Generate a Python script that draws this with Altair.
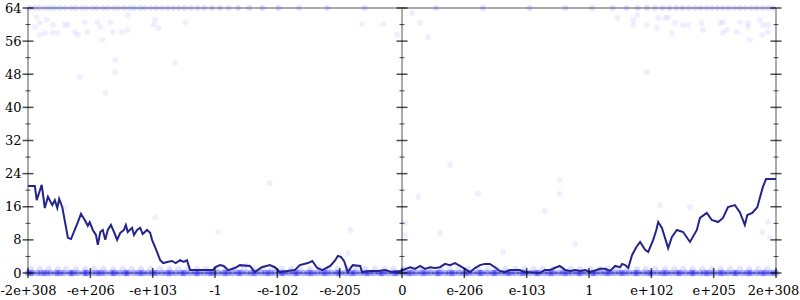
import json
import altair as alt
import pandas as pd

# ---------------- data ----------------
x_labels = ["-2e+308", "-e+206", "-e+103", "-1", "-e-102", "-e-205", "0",
            "e-206", "e-103", "1", "e+102", "e+205", "2e+308"]
x_ticks = list(range(13))
y_major = [0, 8, 16, 24, 32, 40, 48, 56, 64]
y_minor = [4, 12, 20, 28, 36, 44, 52, 60]
axis_positions = [0, 6, 12]

line_u = [0.00, 0.11, 0.14, 0.22, 0.27, 0.32, 0.39, 0.43, 0.47, 0.50, 0.55, 0.64, 0.69, 0.80, 0.85,
          0.91, 0.96, 0.99, 1.04, 1.09, 1.12, 1.16, 1.20, 1.24, 1.28, 1.33, 1.38, 1.43, 1.48, 1.54,
          1.57, 1.60, 1.67, 1.70, 1.75, 1.80, 1.84, 1.91, 1.96, 1.99, 2.07, 2.12, 2.17, 2.25, 2.31,
          2.37, 2.44, 2.50, 2.55, 2.60, 2.76, 2.97, 3.00, 3.08, 3.14, 3.21, 3.32, 3.40, 3.56, 3.64,
          3.75, 3.88, 3.96, 4.04, 4.16, 4.28, 4.36, 4.49, 4.56, 4.64, 4.72, 4.85, 4.93, 4.97, 5.02,
          5.07, 5.13, 5.21, 5.33, 5.36, 5.49, 5.62, 5.73, 5.84, 5.97, 6.13, 6.21, 6.29, 6.37, 6.45,
          6.53, 6.61, 6.69, 6.77, 6.85, 6.93, 7.01, 7.09, 7.17, 7.25, 7.33, 7.41, 7.49, 7.57, 7.65,
          7.73, 7.89, 7.97, 8.05, 8.21, 8.29, 8.37, 8.45, 8.53, 8.62, 8.70, 8.78, 8.86, 8.94, 9.02,
          9.18, 9.26, 9.34, 9.42, 9.50, 9.53, 9.58, 9.63, 9.69, 9.76, 9.82, 9.90, 9.95, 10.03, 10.08,
          10.11, 10.17, 10.27, 10.33, 10.41, 10.51, 10.62, 10.73, 10.78, 10.89, 10.97, 11.07, 11.15,
          11.23, 11.34, 11.42, 11.50, 11.54, 11.62, 11.70, 11.74, 11.79, 11.84, 12.00]
line_err = [21.0, 21.0, 17.6, 21.3, 15.7, 18.4, 16.4, 17.6, 15.7, 17.9, 15.9, 8.5, 8.2, 12.3, 14.3,
            12.8, 11.4, 12.3, 10.4, 9.2, 6.8, 9.9, 10.4, 8.0, 10.4, 11.6, 9.9, 8.0, 9.7, 10.4,
            11.6, 9.9, 10.9, 9.2, 10.4, 10.9, 9.4, 10.4, 9.7, 8.0, 5.1, 3.1, 2.4, 2.7, 2.9,
            2.4, 3.1, 2.7, 3.1, 0.7, 0.7, 0.7, 1.4, 1.9, 1.7, 0.7, 1.2, 1.9, 1.7, 0.2,
            1.4, 1.9, 1.4, 0.2, 0.5, 0.7, 1.9, 2.4, 2.9, 1.2, 0.7, 1.7, 3.1, 4.1, 3.9,
            2.9, 0.2, 1.9, 1.7, 0.2, 0.5, 0.5, 0.7, 0.2, 0.5, 1.4, 1.0, 1.7, 1.0, 1.4,
            1.2, 1.4, 2.2, 1.9, 2.4, 1.7, 1.0, 0.2, 1.2, 1.9, 2.2, 2.2, 1.4, 0.5, 0.2,
            0.7, 0.7, 0.2, 0.2, 0.0, 0.7, 0.7, 1.2, 1.7, 0.7, 0.5, 0.7, 0.5, 0.7, 0.2,
            1.0, 1.0, 0.5, 1.7, 1.4, 2.2, 1.9, 1.2, 4.3, 6.3, 7.5, 5.6, 5.1, 8.0, 10.4,
            12.3, 10.9, 6.0, 8.7, 10.4, 9.9, 7.5, 10.4, 13.3, 14.5, 12.8, 12.3, 13.3,
            15.9, 16.4, 14.7, 11.6, 14.0, 14.5, 15.9, 18.1, 20.8, 22.7, 22.7]

# sample points with 0 bits of error
zero_u = [0.00, 0.07, 0.15, 0.21, 0.30, 0.36, 0.44, 0.52, 0.58, 0.67, 0.73, 0.80, 0.89, 0.95, 1.03,
          1.10, 1.18, 1.24, 1.33, 1.40, 1.47, 1.55, 1.61, 1.70, 1.77, 1.85, 1.92, 1.99, 2.07, 2.15,
          2.22, 2.30, 2.37, 2.45, 2.52, 2.60, 2.68, 2.75, 2.83, 2.90, 2.98, 3.05, 3.13, 3.21, 3.28,
          3.36, 3.43, 3.51, 3.58, 3.66, 3.74, 3.81, 3.89, 3.96, 4.04, 4.11, 4.19, 4.27, 4.34, 4.42,
          4.49, 4.57, 4.64, 4.72, 4.80, 4.87, 4.95, 5.02, 5.10, 5.17, 5.25, 5.33, 5.40, 5.48, 5.55,
          5.63, 5.70, 5.78, 5.86, 5.93, 6.01, 6.08, 6.16, 6.23, 6.31, 6.39, 6.46, 6.54, 6.61, 6.69,
          6.76, 6.84, 6.92, 6.99, 7.07, 7.14, 7.22, 7.29, 7.37, 7.45, 7.52, 7.60, 7.67, 7.75, 7.82,
          7.90, 7.98, 8.05, 8.13, 8.20, 8.28, 8.35, 8.43, 8.51, 8.58, 8.66, 8.73, 8.81, 8.88, 8.96,
          9.04, 9.11, 9.19, 9.26, 9.34, 9.41, 9.49, 9.57, 9.64, 9.72, 9.79, 9.87, 9.94, 10.02, 10.10,
          10.17, 10.25, 10.32, 10.40, 10.47, 10.55, 10.63, 10.70, 10.78, 10.85, 10.93, 11.00, 11.08,
          11.16, 11.23, 11.31, 11.38, 11.46, 11.53, 11.61, 11.69, 11.76, 11.84, 11.91, 12.00,
          0.04, 0.26, 0.48, 0.70, 0.93, 1.14, 1.37, 1.58, 1.81, 2.03, 2.26, 2.49, 2.71, 2.94, 3.17,
          3.39, 3.62, 3.85, 4.08, 4.30, 4.53, 4.76, 4.98, 5.21, 5.44, 5.67, 5.89, 6.12, 6.35, 6.58,
          6.80, 7.03, 7.26, 7.48, 7.71, 7.94, 8.17, 8.39, 8.62, 8.85, 9.07, 9.30, 9.53, 9.76, 9.98,
          10.21, 10.44, 10.66, 10.89, 11.12, 11.35, 11.57, 11.80, 11.96]

# sample points with ~1 bit of error
one_u = [0.05, 0.19, 0.33, 0.48, 0.61, 0.77, 0.92, 1.06, 1.21, 1.37, 1.52, 1.66, 1.81, 1.97, 2.12,
         2.27, 2.41, 2.57, 2.71, 2.86, 3.02, 3.17, 3.31, 3.46, 3.62, 3.77, 3.91, 4.07, 4.22, 4.36,
         4.52, 4.67, 4.81, 4.97, 5.12, 5.26, 5.41, 5.57, 5.72, 5.86, 6.02, 6.17, 6.31, 6.46, 6.62,
         6.77, 6.91, 7.06, 7.22, 7.37, 7.51, 7.66, 7.82, 7.97, 8.11, 8.26, 8.42, 8.57, 8.71, 8.86,
         9.02, 9.17, 9.31, 9.46, 9.62, 9.77, 9.91, 10.06, 10.22, 10.37, 10.51, 10.66, 10.82, 10.97,
         11.11, 11.26, 11.42, 11.57, 11.71, 11.86]

# sample points with 64 bits of error
top_u = [0.02, 0.10, 0.18, 0.27, 0.35, 0.43, 0.52, 0.60, 0.69, 0.77, 0.86, 0.94, 1.03, 1.11, 1.20,
         1.28, 1.37, 1.45, 1.54, 1.63, 1.71, 1.80, 1.88, 1.97, 2.06, 2.15, 2.24, 2.33, 2.42, 2.51,
         2.61, 2.72, 2.83, 2.95, 3.08, 3.22, 3.37, 3.55, 3.76, 4.02, 4.35, 4.80, 5.40, 6.55, 7.30,
         8.05, 8.62, 9.05, 9.38, 9.60, 9.78, 9.93, 10.06, 10.18, 10.29, 10.40, 10.50, 10.60, 10.70,
         10.79, 10.88, 10.97, 11.06, 11.15, 11.24, 11.33, 11.42, 11.51, 11.60, 11.69, 11.78, 11.87,
         11.95]

# other scattered sample points
scatter_u = [0.14, 0.19, 0.11, 0.30, 0.40, 0.27, 0.39, 0.47, 0.19, 0.59, 0.64, 0.75, 0.80, 0.91,
             0.95, 1.11, 1.16, 1.19, 1.32, 1.36, 1.51, 1.60, 1.60, 1.40, 1.40, 0.83, 1.24, 2.04,
             2.09, 2.01, 2.36, 2.52,
             9.45, 9.71, 9.77, 9.71, 9.93, 10.09, 10.11, 10.22, 10.27, 10.33, 10.38, 10.51, 10.59,
             10.81, 10.83, 11.10, 11.15, 11.21, 11.15, 11.37, 11.42, 11.55, 11.55, 11.58, 11.74,
             11.79, 11.87, 11.78, 11.87, 9.93,
             5.36, 5.70, 6.29, 6.16, 6.42, 5.92, 6.26, 7.22, 6.61, 7.62, 6.05, 6.05, 5.17, 5.13,
             6.77, 8.53, 8.53, 8.29, 8.78, 10.14, 10.62, 11.87, 11.78, 11.90, 0.59, 2.04, 3.88,
             3.05, 3.51]
scatter_err = [61.8, 60.4, 59.4, 61.1, 59.9, 58.0, 58.0, 58.0, 57.5, 59.9, 59.9, 58.2, 57.5, 60.6,
               58.2, 60.6, 59.4, 56.3, 60.6, 58.2, 58.2, 58.7, 62.3, 51.4, 48.5, 47.3, 43.5, 61.1,
               59.2, 59.9, 50.7, 60.6,
               61.6, 61.1, 62.3, 59.9, 59.9, 59.2, 61.6, 61.6, 61.8, 58.0, 60.4, 59.9, 59.9,
               60.4, 58.7, 60.4, 60.6, 58.7, 58.0, 58.2, 60.6, 60.4, 59.4, 56.3, 61.1,
               59.9, 59.9, 57.5, 58.2, 48.5,
               60.1, 60.1, 60.4, 62.8, 57.0, 57.5, 18.4, 19.1, 9.7, 5.1, 12.1, 9.2, 10.4, 4.8,
               26.1, 22.5, 19.1, 15.0, 7.0, 16.4, 15.9, 12.3, 9.9, 8.5, 15.7, 13.5, 21.7,
               9.9, 1.9]

# ---------------- tables ----------------
line_df = pd.DataFrame({"u": line_u, "err": line_err})
zero_df = pd.DataFrame({"u": zero_u, "err": [0] * len(zero_u)})
one_df = pd.DataFrame({"u": one_u, "err": [1] * len(one_u)})
top_df = pd.DataFrame({"u": top_u, "err": [64] * len(top_u)})
scat_df = pd.DataFrame({"u": scatter_u, "err": scatter_err})
vaxis_df = pd.DataFrame({"u": axis_positions})
haxis_df = pd.DataFrame({"err": [0, 64]})
major_df = pd.DataFrame([{"u": a, "err": v} for a in axis_positions for v in y_major])
minor_df = pd.DataFrame([{"u": a, "err": v} for a in axis_positions for v in y_minor])
xtick_df = pd.DataFrame({"u": x_ticks, "err": [0] * len(x_ticks)})

FONT = "DejaVu Serif"
xscale = alt.Scale(domain=[0, 12], nice=False, zero=False)
yscale = alt.Scale(domain=[0, 64], nice=False, zero=True)
label_expr = json.dumps(x_labels) + "[datum.value]"

x_axis = alt.Axis(values=x_ticks, labelExpr=label_expr, ticks=False, domain=False, grid=False,
                  title=None, labelFont=FONT, labelFontSize=13, labelColor="black",
                  labelPadding=11, labelOverlap=False, labelFlush=False, labelBound=False,
                  labelOffset=alt.ExprRef("datum.value == 12 ? -3 : 0"))
y_axis = alt.Axis(values=y_major, ticks=False, domain=False, grid=False, title=None,
                  labelFont=FONT, labelFontSize=13, labelColor="black", labelPadding=7,
                  labelOverlap=False, labelFlush=False, labelBound=False)


def X():
    return alt.X("u:Q", scale=xscale, axis=x_axis, title=None)


def Y():
    return alt.Y("err:Q", scale=yscale, axis=y_axis, title=None)


vrules = alt.Chart(vaxis_df).mark_rule(color="#aaaaaa", strokeWidth=2).encode(
    x=X(), y=alt.value(0), y2=alt.value(265))
hrules = alt.Chart(haxis_df).mark_rule(color="#aaaaaa", strokeWidth=2).encode(
    y=Y(), x=alt.value(0), x2=alt.value(748))

pt_kw = dict(color="#0000ff", stroke="#0000ff", strokeWidth=0.6)
zero_pts = alt.Chart(zero_df).mark_circle(opacity=0.3, size=36, **pt_kw).encode(x=X(), y=Y())
one_pts = alt.Chart(one_df).mark_circle(opacity=0.1, size=30, **pt_kw).encode(x=X(), y=Y())
top_pts = alt.Chart(top_df).mark_circle(opacity=0.12, size=28, **pt_kw).encode(x=X(), y=Y())
scat_pts = alt.Chart(scat_df).mark_circle(opacity=0.06, size=28, **pt_kw).encode(x=X(), y=Y())

line = alt.Chart(line_df).mark_line(color="#24248c", strokeWidth=2, interpolate="linear").encode(
    x=X(), y=Y())

major_ticks = alt.Chart(major_df).mark_tick(orient="horizontal", size=11, thickness=1.5,
                                            color="black").encode(x=X(), y=Y())
minor_ticks = alt.Chart(minor_df).mark_tick(orient="horizontal", size=5, thickness=1,
                                            color="black").encode(x=X(), y=Y())
x_tick_marks = alt.Chart(xtick_df).mark_tick(orient="vertical", size=10, thickness=1.5,
                                             color="black").encode(x=X(), y=Y())

chart = alt.layer(
    vrules, hrules, zero_pts, one_pts, top_pts, scat_pts, line,
    major_ticks, minor_ticks, x_tick_marks
).properties(
    width=748, height=265,
    autosize="none",
    padding={"left": 28, "top": 8, "right": 24, "bottom": 27},
).configure_view(stroke=None).configure(background="white")

chart.save("out.html", embed_options={"renderer": "svg", "actions": False})
